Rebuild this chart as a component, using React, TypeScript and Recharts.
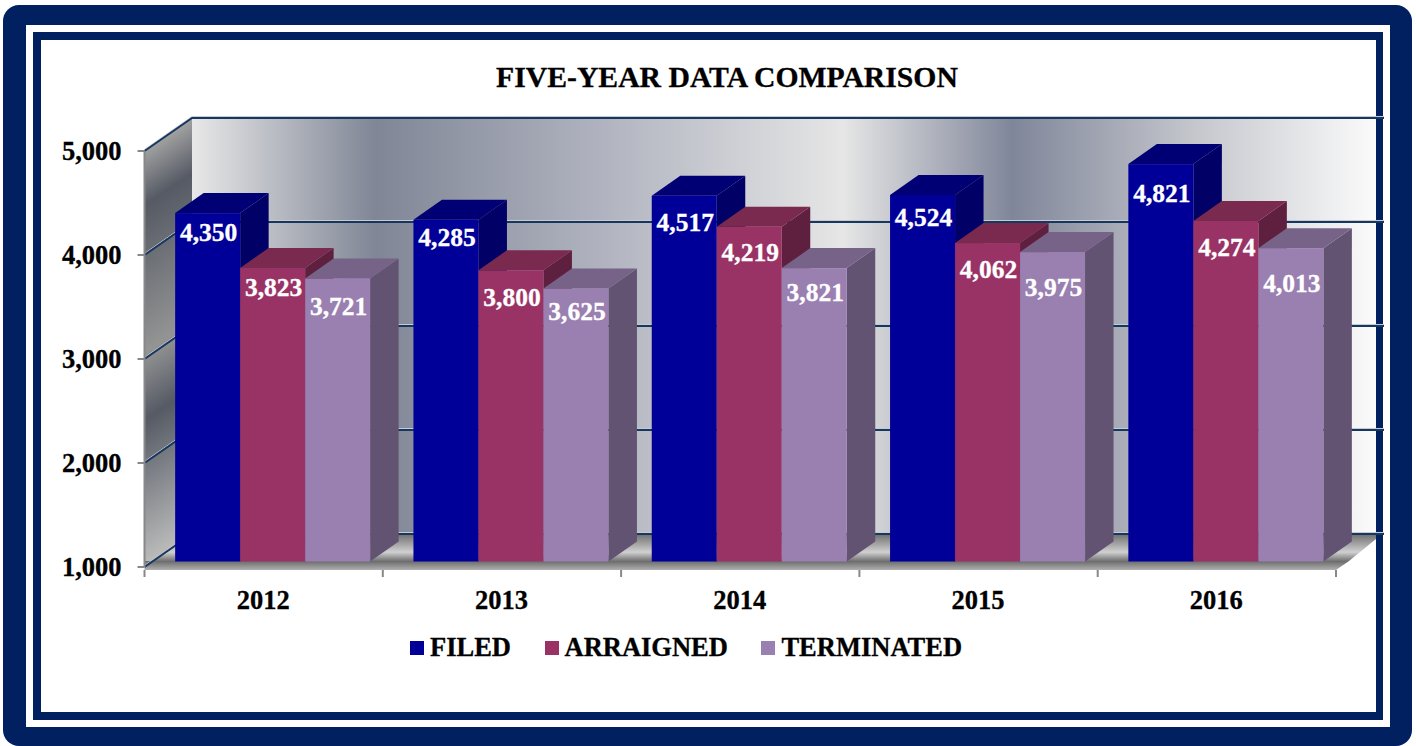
import React from 'react'
import { BarChart, Bar, XAxis, YAxis, CartesianGrid, Legend, LabelList } from 'recharts'

const categories = ['2012', '2013', '2014', '2015', '2016']
const filed = [4350, 4285, 4517, 4524, 4821]
const arraigned = [3823, 3800, 4219, 4062, 4274]
const terminated = [3721, 3625, 3821, 3975, 4013]
const yTicks = [1000, 2000, 3000, 4000, 5000]

const data = categories.map((year, i) => ({
  year,
  filed: filed[i],
  arraigned: arraigned[i],
  terminated: terminated[i],
}))

// label placement below each bar's top edge, the source chart nudged them by hand
const filedLabelDrop = [19, 17, 26, 22, 29]
const arraignedLabelDrop = [19, 27, 25, 26, 26]
const terminatedLabelDrop = [28, 23, 24, 35, 35]

const WIDTH = 1416
const HEIGHT = 746
const PLOT_LEFT = 144.5
const PLOT_RIGHT = 1336
const PLOT_TOP = 151
const PLOT_BOTTOM = 567
const WALL_DX = 47.5
const WALL_DY = -33
const WALL_RIGHT = 1376
const GRID_COLOR = '#17375e'
const FONT = '"Liberation Serif", "Times New Roman", serif'

const Box3D = ({ x, y, width, height, fill, topFill, sideFill }: any) => {
  const left = x + 9
  const top = y - 5.5
  const right = left + width
  const dx = 28.5
  const dy = -20
  return (
    <g>
      <polygon
        points={`${right},${top} ${right + dx},${top + dy} ${right + dx},${top + height + dy} ${right},${top + height}`}
        fill={sideFill}
      />
      <polygon
        points={`${left},${top} ${left + dx},${top + dy} ${right + dx},${top + dy} ${right},${top}`}
        fill={topFill}
      />
      <rect x={left} y={top} width={width} height={height} fill={fill} />
    </g>
  )
}

const barLabel = (drops: number[]) => (props: any) => {
  const { x, y, width, value, index } = props
  return (
    <text
      x={x + 10 + width / 2}
      y={y - 5.5 + drops[index]}
      dy="0.35em"
      textAnchor="middle"
      fill="#ffffff"
      stroke="#ffffff"
      strokeWidth={0.3}
      fontFamily={FONT}
      fontWeight="bold"
      fontSize={25.5}
    >
      {Number(value).toLocaleString('en-US')}
    </text>
  )
}

// walls, floor and title sit in their own svg under the chart so the grid lines stay on top
const Backdrop = () => (
  <svg width={WIDTH} height={HEIGHT} style={{ position: 'absolute', left: 0, top: 0 }}>
    <defs>
      <linearGradient id="backWall" gradientUnits="userSpaceOnUse" x1={192} y1={0} x2={WALL_RIGHT} y2={0}>
        <stop offset="0" stopColor="#e8e8e8" />
        <stop offset="0.155" stopColor="#808696" />
        <stop offset="0.345" stopColor="#b0b3bf" />
        <stop offset="0.55" stopColor="#e6e6e6" />
        <stop offset="0.693" stopColor="#80869a" />
        <stop offset="0.845" stopColor="#c4c6cc" />
        <stop offset="1" stopColor="#fbfbfb" />
      </linearGradient>
      <linearGradient id="sideWall" gradientUnits="userSpaceOnUse" x1={144.5} y1={151} x2={335.5} y2={441}>
        <stop offset="0" stopColor="#a0a0a0" />
        <stop offset="0.13" stopColor="#555a64" />
        <stop offset="0.485" stopColor="#949494" />
        <stop offset="0.647" stopColor="#555a64" />
        <stop offset="1" stopColor="#bcbcbc" />
      </linearGradient>
      <linearGradient id="floorFill" x1="0" y1="0" x2="0" y2="1">
        <stop offset="0" stopColor="#6e6e6e" />
        <stop offset="0.55" stopColor="#d0d0d0" />
        <stop offset="0.95" stopColor="#444444" />
        <stop offset="1" stopColor="#444444" />
      </linearGradient>
      <linearGradient id="floorEdge" x1="0" y1="0" x2="0" y2="1">
        <stop offset="0" stopColor="#6a6a6a" />
        <stop offset="1" stopColor="#b0b0b0" />
      </linearGradient>
    </defs>
    <rect
      x={PLOT_LEFT + WALL_DX}
      y={PLOT_TOP + WALL_DY}
      width={WALL_RIGHT - PLOT_LEFT - WALL_DX}
      height={PLOT_BOTTOM - PLOT_TOP}
      fill="url(#backWall)"
    />
    <polygon
      points={`${PLOT_LEFT},${PLOT_TOP} ${PLOT_LEFT + WALL_DX},${PLOT_TOP + WALL_DY} ${PLOT_LEFT + WALL_DX},${PLOT_BOTTOM + WALL_DY} ${PLOT_LEFT},${PLOT_BOTTOM}`}
      fill="url(#sideWall)"
    />
    <polygon
      points={`${PLOT_LEFT},${PLOT_BOTTOM} ${PLOT_LEFT + WALL_DX},${PLOT_BOTTOM + WALL_DY} ${WALL_RIGHT},${PLOT_BOTTOM + WALL_DY} ${WALL_RIGHT},${PLOT_BOTTOM + WALL_DY + 5} 1349,561 ${PLOT_LEFT},561`}
      fill="url(#floorFill)"
    />
    <polygon points={`${PLOT_LEFT},561 1349,561 ${PLOT_RIGHT},570 ${PLOT_LEFT},570`} fill="url(#floorEdge)" />
    <text
      x={727}
      y={87}
      textAnchor="middle"
      fontFamily={FONT}
      fontWeight="bold"
      fontSize={29.7}
      fill="#000000"
      stroke="#000000"
      strokeWidth={0.3}
    >
      FIVE-YEAR DATA COMPARISON
    </text>
  </svg>
)

const wallGridLine = (props: any) => {
  const y = props.y1
  return (
    <g key={`wall-line-${y}`}>
      <polyline
        points={`${PLOT_LEFT},${y - 1.5} ${PLOT_LEFT + WALL_DX},${y + WALL_DY - 1.5} 1384,${y + WALL_DY - 1.5}`}
        fill="none"
        stroke="#c6cad2"
        strokeWidth={1}
      />
      <polyline
        points={`${PLOT_LEFT},${y} ${PLOT_LEFT + WALL_DX},${y + WALL_DY} 1384,${y + WALL_DY}`}
        fill="none"
        stroke={GRID_COLOR}
        strokeWidth={2}
      />
    </g>
  )
}

const bandWidth = (PLOT_RIGHT - PLOT_LEFT) / categories.length

const YearTick = ({ x, y, payload, index }: any) => (
  <g>
    <line x1={x - bandWidth / 2} x2={x - bandWidth / 2} y1={y - 5} y2={y + 2} stroke="#888888" strokeWidth={2} />
    {index === categories.length - 1 && (
      <line x1={x + bandWidth / 2} x2={x + bandWidth / 2} y1={y - 5} y2={y + 2} stroke="#888888" strokeWidth={2} />
    )}
    <text
      x={x - 0.5}
      y={y + 25}
      dy="0.35em"
      textAnchor="middle"
      fontFamily={FONT}
      fontWeight="bold"
      fontSize={26.5}
      fill="#000000"
      stroke="#000000"
      strokeWidth={0.3}
    >
      {payload.value}
    </text>
  </g>
)

const LegendRow = ({ payload }: any) => (
  <div style={{ display: 'flex', alignItems: 'center', fontFamily: FONT, fontWeight: 'bold', fontSize: 26.5, color: '#000', WebkitTextStroke: '0.3px #000' }}>
    {(payload || []).map((entry: any) => (
      <div key={entry.value} style={{ display: 'flex', alignItems: 'center', marginRight: 33.5 }}>
        <span style={{ width: 14, height: 14, background: entry.color, marginRight: 6, display: 'inline-block' }} />
        <span>{entry.value}</span>
      </div>
    ))}
  </div>
)

export default function App() {
  return (
    <div style={{ position: 'fixed', left: 0, top: 0, width: WIDTH, height: HEIGHT, background: '#fff', overflow: 'hidden' }}>
      <div style={{ position: 'absolute', left: 3, top: 5, width: 1409, height: 741, background: '#002060', borderRadius: 16 }} />
      <div style={{ position: 'absolute', left: 26, top: 25, width: 1364, height: 702, background: '#fff' }} />
      <div style={{ position: 'absolute', left: 33, top: 32, width: 1350, height: 688, background: '#002060' }} />
      <div style={{ position: 'absolute', left: 41, top: 40, width: 1335, height: 672, background: '#fff' }} />
      <Backdrop />
      <div style={{ position: 'absolute', left: 0, top: 0 }}>
        <BarChart
          width={WIDTH}
          height={HEIGHT}
          data={data}
          barGap={0}
          barCategoryGap={21.65}
          margin={{ left: PLOT_LEFT - 70, right: WIDTH - PLOT_RIGHT, top: PLOT_TOP, bottom: HEIGHT - PLOT_BOTTOM - 60 }}
        >
          <CartesianGrid vertical={false} horizontal={wallGridLine} />
          <XAxis dataKey="year" height={60} axisLine={false} tickLine={false} tick={<YearTick />} interval={0} />
          <YAxis
            width={70}
            domain={[1000, 5000]}
            ticks={yTicks}
            interval={0}
            axisLine={{ stroke: '#888888', strokeWidth: 2 }}
            tickLine={{ stroke: '#888888', strokeWidth: 2 }}
            tickSize={7}
            tickMargin={16}
            tick={{ fontFamily: FONT, fontWeight: 'bold', fontSize: 26.5, fill: '#000000', stroke: '#000000', strokeWidth: 0.3 }}
            tickFormatter={(v: number) => v.toLocaleString('en-US')}
          />
          <Legend
            layout="horizontal"
            verticalAlign="middle"
            align="center"
            itemSorter={null}
            content={<LegendRow />}
            wrapperStyle={{ left: 410, top: 632, width: 620, bottom: 'auto' }}
          />
          <Bar
            dataKey="filed"
            name="FILED"
            fill="#000099"
            legendType="square"
            isAnimationActive={false}
            shape={(p: any) => <Box3D {...p} topFill="#000074" sideFill="#000066" />}
          >
            <LabelList dataKey="filed" content={barLabel(filedLabelDrop)} />
          </Bar>
          <Bar
            dataKey="arraigned"
            name="ARRAIGNED"
            fill="#993366"
            legendType="square"
            isAnimationActive={false}
            shape={(p: any) => <Box3D {...p} topFill="#7a294f" sideFill="#5f2040" />}
          >
            <LabelList dataKey="arraigned" content={barLabel(arraignedLabelDrop)} />
          </Bar>
          <Bar
            dataKey="terminated"
            name="TERMINATED"
            fill="#9a7fb1"
            legendType="square"
            isAnimationActive={false}
            shape={(p: any) => <Box3D {...p} topFill="#776388" sideFill="#635372" />}
          >
            <LabelList dataKey="terminated" content={barLabel(terminatedLabelDrop)} />
          </Bar>
        </BarChart>
      </div>
    </div>
  )
}
